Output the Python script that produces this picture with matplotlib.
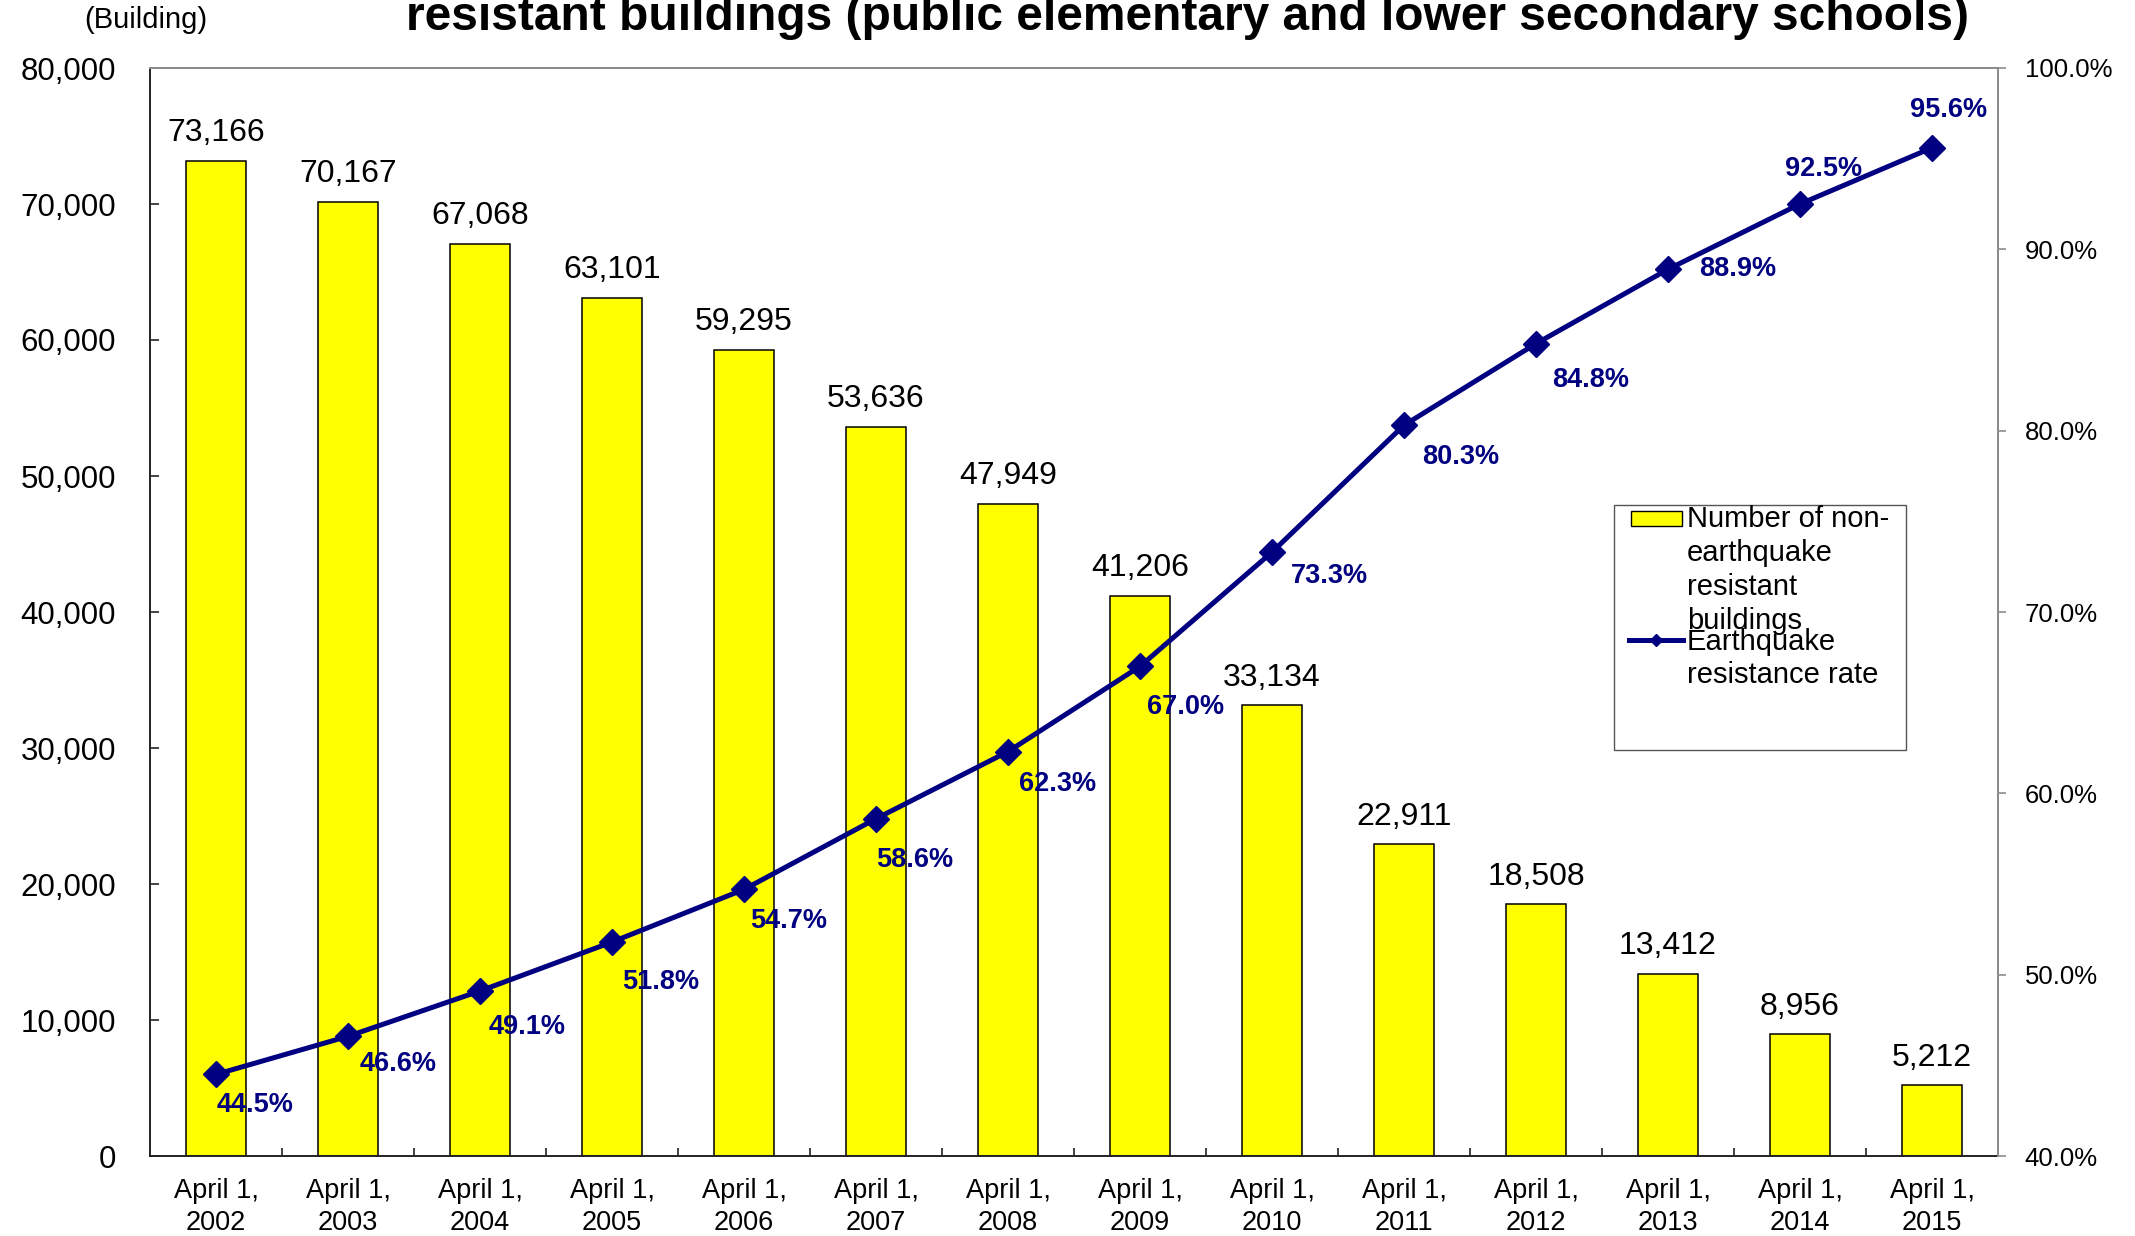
import matplotlib.pyplot as plt
import numpy as np
from matplotlib.lines import Line2D
from matplotlib.patches import Rectangle
from matplotlib.ticker import FuncFormatter, MultipleLocator

plt.rcParams["font.family"] = ["Liberation Sans", "DejaVu Sans"]

W, H = 2135, 1236  # output size in pixels (dpi 100)

years = ["2002", "2003", "2004", "2005", "2006", "2007", "2008",
         "2009", "2010", "2011", "2012", "2013", "2014", "2015"]
non_resistant = [73166, 70167, 67068, 63101, 59295, 53636, 47949,
                 41206, 33134, 22911, 18508, 13412, 8956, 5212]
resistance_rate = [44.5, 46.6, 49.1, 51.8, 54.7, 58.6, 62.3,
                   67.0, 73.3, 80.3, 84.8, 88.9, 92.5, 95.6]
tick_labels = [f"April 1,\n{y}" for y in years]

# offset (points) of each rate label from its marker
rate_label_offsets = [(28, -22), (36, -20), (34, -26), (35, -29), (32, -23),
                      (28, -30), (36, -23), (33, -29), (41, -17), (41, -23),
                      (39, -26), (50, 0), (17, 25), (12, 27)]

NAVY = "#000080"
YELLOW = "#FFFF00"
DARK = "#222222"
GRAY = "#8c8c8c"


def fig_xy(px, py):
    """Pixel position (from top-left) -> figure fraction."""
    return px / W, 1 - py / H


fig = plt.figure(figsize=(W / 100, H / 100), dpi=100)
ax = fig.add_axes([150 / W, (H - 1156) / H, 1848 / W, 1088 / H])

x = np.arange(len(years))
ax.bar(x, non_resistant, width=0.455, color=YELLOW, edgecolor="black",
       linewidth=1.1, zorder=2)
for xi, v in zip(x, non_resistant):
    ax.annotate(f"{v:,}", (xi, v), xytext=(0, 14), textcoords="offset points",
                ha="center", va="baseline", fontsize=23)

ax.set_xlim(-0.5, len(years) - 0.5)
ax.set_ylim(0, 80000)
ax.yaxis.set_major_locator(MultipleLocator(10000))
ax.yaxis.set_major_formatter(FuncFormatter(lambda v, _: f"{v:,.0f}"))
ax.tick_params(axis="y", direction="in", length=6.5, width=1.2, color=DARK,
               pad=24.5, labelsize=22.5)

ax.set_xticks(x)
ax.set_xticklabels(tick_labels, linespacing=1.3)
ax.set_xticks(np.arange(0.5, len(years), 1), minor=True)
ax.tick_params(axis="x", which="major", length=0, pad=16, labelsize=19.5)
ax.tick_params(axis="x", which="minor", direction="in", length=6,
               width=1.2, color=DARK)

for side in ("left", "bottom"):
    ax.spines[side].set_color(DARK)
    ax.spines[side].set_linewidth(1.4)
for side in ("top", "right"):
    ax.spines[side].set_color(GRAY)
    ax.spines[side].set_linewidth(1.4)

# earthquake resistance rate on the right axis
ax2 = ax.twinx()
ax2.plot(x, resistance_rate, color=NAVY, lw=3.6, marker="D", ms=13.5,
         zorder=3)
for xi, v, (dx, dy) in zip(x, resistance_rate, rate_label_offsets):
    ax2.annotate(f"{v:.1f}%", (xi, v), xytext=(dx, dy),
                 textcoords="offset points", ha="center", va="center",
                 fontsize=19.5, fontweight="bold", color=NAVY)
ax2.set_ylim(40, 100)
ax2.yaxis.set_major_locator(MultipleLocator(10))
ax2.yaxis.set_major_formatter(FuncFormatter(lambda v, _: f"{v:.1f}%"))
ax2.tick_params(axis="y", direction="out", length=5.8, width=1.2,
                color=GRAY, pad=13.5, labelsize=18.5)
for side in ("left", "bottom"):
    ax2.spines[side].set_visible(False)
for side in ("top", "right"):
    ax2.spines[side].set_color(GRAY)
    ax2.spines[side].set_linewidth(1.4)

# titles
fig.text(*fig_xy(1188, 30),
         "resistant buildings (public elementary and lower secondary schools)",
         ha="center", va="baseline", fontsize=34.5, fontweight="bold")
fig.text(*fig_xy(146, 20), "(Building)", ha="center", va="center",
         fontsize=21)

# legend box
x0, y0 = fig_xy(1614, 750)
x1, y1 = fig_xy(1906, 505)
fig.add_artist(Rectangle((x0, y0), x1 - x0, y1 - y0, transform=fig.transFigure,
                         facecolor="white", edgecolor="#555555", lw=1.0,
                         zorder=5))
rx0, ry0 = fig_xy(1631, 526)
rx1, ry1 = fig_xy(1682, 511)
fig.add_artist(Rectangle((rx0, ry0), rx1 - rx0, ry1 - ry0,
                         transform=fig.transFigure, facecolor=YELLOW,
                         edgecolor="black", lw=1.0, zorder=6))
lx0, ly = fig_xy(1629, 640)
lx1, _ = fig_xy(1683, 640)
fig.add_artist(Line2D([lx0, lx1], [ly, ly], transform=fig.transFigure,
                      color=NAVY, lw=3.6, zorder=6))
fig.add_artist(Line2D([(lx0 + lx1) / 2], [ly], transform=fig.transFigure,
                      color=NAVY, marker="D", ms=6, lw=0, zorder=6))

bar_lines = ["Number of non-", "earthquake", "resistant", "buildings"]
for i, s in enumerate(bar_lines):
    fig.text(*fig_xy(1687, 527 + 34 * i), s, ha="left", va="baseline",
             fontsize=21, zorder=7)
for i, s in enumerate(["Earthquake", "resistance rate"]):
    fig.text(*fig_xy(1687, 650 + 33 * i), s, ha="left", va="baseline",
             fontsize=21, zorder=7)

fig.savefig("out.png", dpi=100)
